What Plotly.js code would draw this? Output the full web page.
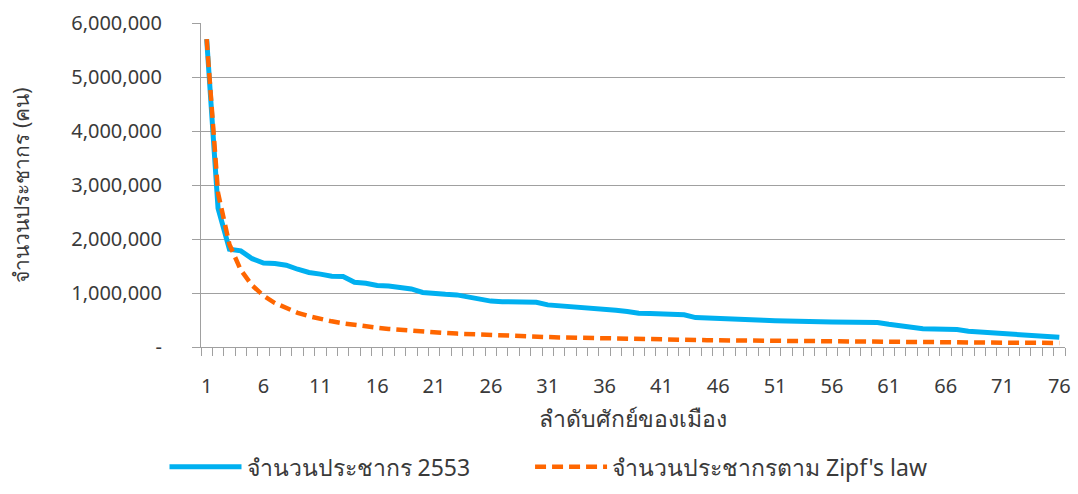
<!DOCTYPE html>
<html>
<head>
<meta charset="utf-8">
<script src="https://cdn.plot.ly/plotly-3.0.1.min.js"></script>
<style>html,body{margin:0;padding:0;background:#fff;}#chart{width:1078px;height:494px;}</style>
</head>
<body>
<div id="chart"></div>
<script>
// Rank of city (1..76)
const ranks = [];
for (let r = 1; r <= 76; r++) ranks.push(r);

// Population 2553 (registered)
const population2553 = [
  5701394, 2570000, 1810000, 1780000, 1635000, 1555000, 1545000, 1515000, 1440000, 1380000,
  1350000, 1310000, 1305000, 1200000, 1180000, 1140000, 1130000, 1105000, 1075000, 1010000,
  985000, 975000, 965000, 925000, 885000, 850000, 840000, 833000, 830000, 828000,
  780000, 765000, 760000, 745000, 730000, 705000, 680000, 658000, 625000, 620000,
  612000, 605000, 598000, 545000, 533000, 525000, 512000, 502000, 497000, 495000,
  488000, 478000, 475000, 470000, 468000, 462000, 458000, 457000, 456000, 455000,
  420000, 390000, 362000, 338000, 335000, 330000, 323000, 292000, 280000, 252000,
  250000, 245000, 222000, 210000, 198000, 180000
];

// Population according to Zipf's law
const populationZipf = [
  5701394, 2850697, 1900465, 1425349, 1140279, 950232, 814485, 712674, 633488, 570139,
  518309, 475116, 438569, 407242, 380093, 356337, 335376, 316744, 300073, 285070,
  271495, 259154, 247887, 237558, 228056, 219284, 211163, 203621, 196600, 190046,
  183916, 178169, 172770, 167688, 162897, 158372, 154092, 150037, 146190, 142535,
  139058, 135747, 132591, 129577, 126698, 123943, 121306, 118779, 116355, 114028,
  111792, 109642, 107573, 105581, 103662, 101811, 100024, 98300, 96634, 95023,
  93465, 91958, 90498, 89084, 87714, 86385, 85096, 83844, 82629, 81448,
  80301, 79186, 78101, 77046, 76019, 75018
];

const xTickVals = [1, 6, 11, 16, 21, 26, 31, 36, 41, 46, 51, 56, 61, 66, 71, 76];
const xTickText = ['1', '6', '11', '16', '21', '26', '31', '36', '41', '46', '51', '56', '61', '66', '71', '76'];
const yTickVals = [0, 1000000, 2000000, 3000000, 4000000, 5000000, 6000000];
const yTickText = ['-', '1,000,000', '2,000,000', '3,000,000', '4,000,000', '5,000,000', '6,000,000'];

const seriesNames = ['จำนวนประชากร 2553', "จำนวนประชากรตาม Zipf's law"];
const xTitle = 'ลำดับศักย์ของเมือง';
const yTitle = 'จำนวนประชากร (คน)';

const FONT = 'Noto Sans, sans-serif';
const GRID = '#a0a0a0';
const TXT = '#3a3a3a';

const traces = [
  {
    x: ranks, y: population2553, name: seriesNames[0], type: 'scatter', mode: 'lines',
    line: {color: '#00B0F0', width: 5}, legend: 'legend'
  },
  {
    x: ranks, y: populationZipf, name: seriesNames[1], type: 'scatter', mode: 'lines',
    line: {color: '#FF6600', width: 4.5, dash: '11px,6px'}, legend: 'legend2'
  }
];

const legendBase = {
  orientation: 'h', xref: 'container', yref: 'container',
  xanchor: 'left', y: 0.055, yanchor: 'middle',
  font: {family: FONT, size: 23, color: TXT},
  itemwidth: 72, bgcolor: 'rgba(0,0,0,0)'
};

const layout = {
  width: 1078, height: 494,
  margin: {l: 201, r: 13, t: 23, b: 147},
  paper_bgcolor: '#ffffff', plot_bgcolor: '#ffffff',
  font: {family: FONT, size: 20, color: TXT},
  showlegend: true,
  legend: Object.assign({}, legendBase, {x: 0.1526}),
  legend2: Object.assign({}, legendBase, {x: 0.4917}),
  xaxis: {
    range: [0.5, 76.5], tickmode: 'array', tickvals: xTickVals, ticktext: xTickText,
    ticks: '', showgrid: false, zeroline: false,
    showline: true, linecolor: GRID, linewidth: 1,
    ticklabelstandoff: 21,
    tickfont: {family: FONT, size: 20, color: TXT},
    minor: {ticks: 'outside', tick0: 0.5, dtick: 1, ticklen: 8, tickcolor: GRID, tickwidth: 1, showgrid: false},
    title: {text: xTitle, font: {family: FONT, size: 23, color: TXT}, standoff: 12}
  },
  yaxis: {
    range: [0, 6000000], tickmode: 'array', tickvals: yTickVals, ticktext: yTickText,
    ticks: 'outside', ticklen: 8, tickcolor: GRID,
    showgrid: true, gridcolor: GRID, gridwidth: 1, zeroline: false,
    showline: true, linecolor: GRID, linewidth: 1,
    ticklabelstandoff: 26,
    tickfont: {family: FONT, size: 20, color: TXT},
    title: {text: yTitle, font: {family: FONT, size: 21, color: TXT}, standoff: 35}
  }
};

Plotly.newPlot('chart', traces, layout, {displayModeBar: false, staticPlot: true});
</script>
</body>
</html>
